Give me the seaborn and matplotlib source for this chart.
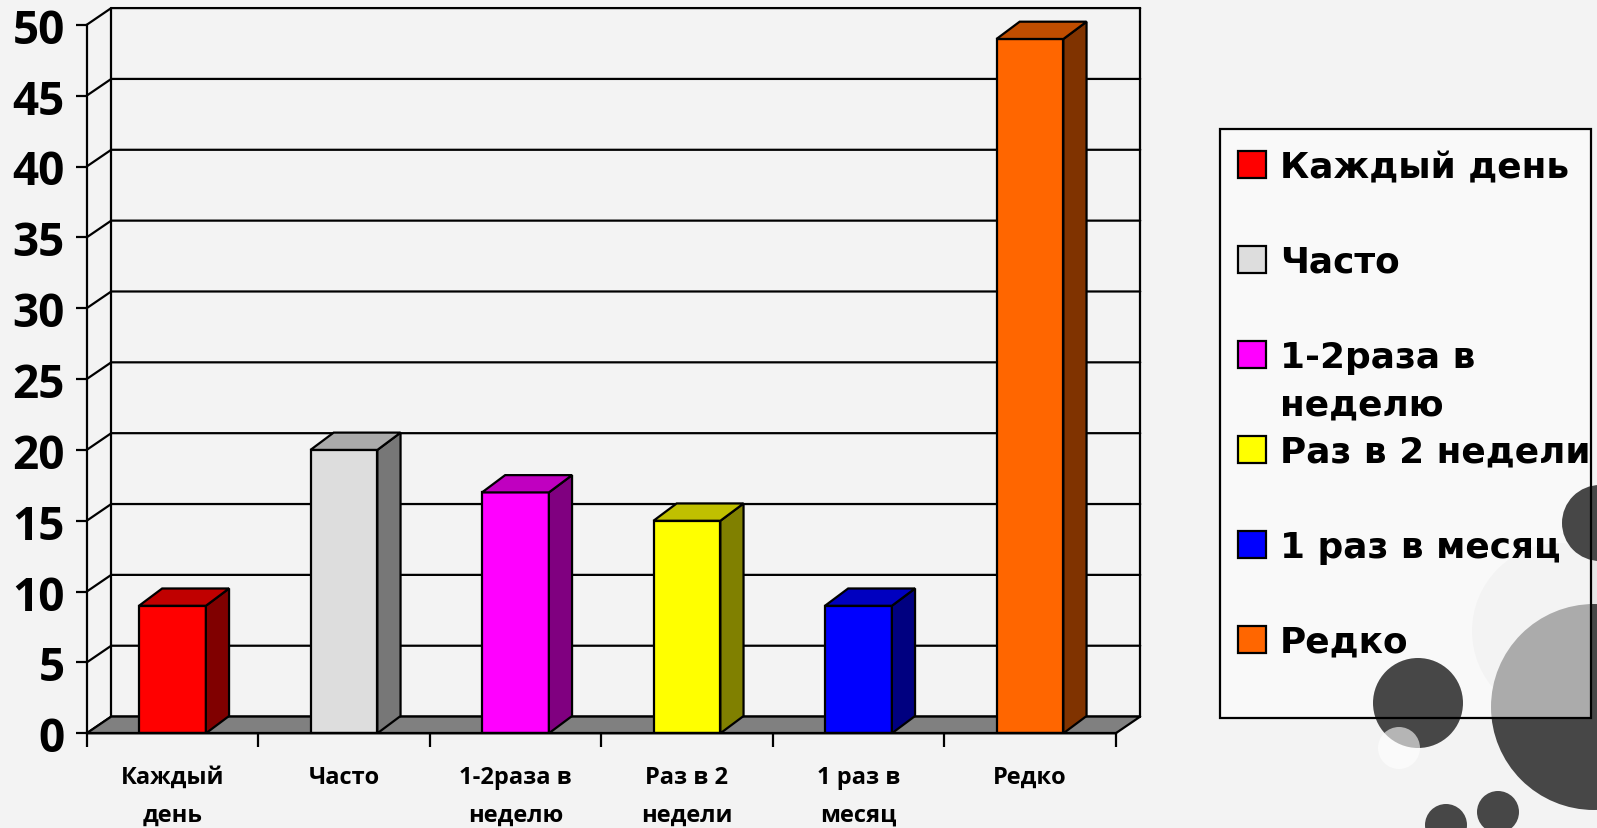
import numpy as np
import pandas as pd
import matplotlib
matplotlib.use("Agg")
import matplotlib.pyplot as plt
import seaborn as sns
from matplotlib.patches import Patch, Rectangle, Circle

# ---------------- data ----------------
categories = ["Каждый день", "Часто", "1-2раза в неделю", "Раз в 2 недели", "1 раз в месяц", "Редко"]
values = [9, 20, 17, 15, 9, 49]
tick_labels = ["Каждый\nдень", "Часто", "1-2раза в\nнеделю", "Раз в 2\nнедели", "1 раз в\nмесяц", "Редко"]
legend_labels = ["Каждый день", "Часто", "1-2раза в", "Раз в 2 недели", "1 раз в месяц", "Редко"]
legend_wrap = "неделю"
front_colors = ["#FF0000", "#DDDDDD", "#FF00FF", "#FFFF00", "#0000FF", "#FF6600"]
side_colors = ["#800000", "#777777", "#800080", "#808000", "#000080", "#803300"]
top_colors = ["#C00000", "#AAAAAA", "#C000C0", "#C0C000", "#0000C0", "#C04D00"]
y_ticks = [0, 5, 10, 15, 20, 25, 30, 35, 40, 45, 50]

# ---------------- style ----------------
sns.set_theme(style="ticks")
plt.rcParams['font.family'] = ['Open Sans', 'DejaVu Sans']
plt.rcParams['font.weight'] = 'bold'

W, H = 1597, 829
fig = plt.figure(figsize=(W / 100, H / 100), dpi=100)
fig.patch.set_facecolor('#f3f3f3')

# geometry of the pseudo-3D frame
x_left_px, cat_px, y0_px, unit_px = 86.7, 171.5, 734.3, 14.17
dx, dy = 0.143, 1.18        # depth of wall / floor
bdx, bdy = 0.135, 1.22      # depth of bars
ymax = y_ticks[-1]
n = len(categories)

ax = fig.add_axes([x_left_px / W, (H - y0_px) / H,
                   (n + dx) * cat_px / W, (ymax + dy) * unit_px / H])
ax.set_facecolor('none')

LW = 1.6
# bars (front faces)
df = pd.DataFrame({"cat": categories, "val": values})
sns.barplot(data=df, x="cat", y="val", hue="cat", palette=front_colors,
            saturation=1, width=0.39, edgecolor='black', linewidth=LW,
            legend=False, ax=ax, zorder=3)
bars = [p for p in ax.patches if isinstance(p, Rectangle)]

ax.set_xlim(-0.5, n - 0.5 + dx)
ax.set_ylim(0, ymax + dy)

# back wall gridlines + side-wall connectors
for v in y_ticks:
    ax.plot([-0.5, -0.5 + dx, n - 0.5 + dx], [v, v + dy, v + dy],
            color='black', lw=LW, zorder=1, clip_on=False)
ax.plot([-0.5 + dx, -0.5 + dx], [dy, ymax + dy], color='black', lw=LW, zorder=1, clip_on=False)
ax.plot([n - 0.5 + dx] * 2, [dy, ymax + dy], color='black', lw=LW, zorder=1, clip_on=False)

# floor
ax.fill([-0.5, n - 0.5, n - 0.5 + dx, -0.5 + dx], [0, 0, dy, dy], facecolor='#808080',
        edgecolor='black', lw=LW, zorder=1.5, clip_on=False)

# side and top faces from the bar geometry
for p in bars:
    x0, w, h = p.get_x(), p.get_width(), p.get_height()
    i = int(round(x0 + w / 2))
    x1 = x0 + w
    ax.fill([x1, x1 + bdx, x1 + bdx, x1], [0, bdy, h + bdy, h],
            facecolor=side_colors[i], edgecolor='black', lw=LW, zorder=3)
    ax.fill([x0, x1, x1 + bdx, x0 + bdx], [h, h, h + bdy, h + bdy],
            facecolor=top_colors[i], edgecolor='black', lw=LW, zorder=3)

# spines / ticks
for s in ['top', 'right']:
    ax.spines[s].set_visible(False)
ax.spines['left'].set_bounds(0, ymax)
ax.spines['bottom'].set_bounds(-0.5, n - 0.5)
for s in ['left', 'bottom']:
    ax.spines[s].set_linewidth(LW)
    ax.spines[s].set_color('black')
    ax.spines[s].set_zorder(4)

ax.set_yticks(y_ticks)
ax.set_yticklabels([str(v) for v in y_ticks])
ax.tick_params(axis='y', left=True, direction='out', length=7.8, width=LW,
               pad=8, labelsize=33, colors='black')
for t in ax.get_yticklabels():
    t.set_fontweight('bold')

ax.set_xticks(range(n))
ax.set_xticklabels(tick_labels, fontsize=17, fontweight='bold', linespacing=1.75)
ax.set_xticks(np.arange(-0.5, n, 1), minor=True)
ax.tick_params(axis='x', which='major', bottom=True, length=0, pad=23, colors='black')
ax.tick_params(axis='x', which='minor', bottom=True, length=10, width=LW,
               direction='out', color='black')
ax.set_xlabel("")
ax.set_ylabel("")

# decorative circles (background art)
def circ(x, y, r, c, z, a=1.0):
    fig.add_artist(Circle((x / 100, (H - y) / 100), r / 100, transform=fig.dpi_scale_trans,
                          facecolor=c, edgecolor='none', zorder=z, alpha=a))

circ(1560, 632, 88, '#e6e6e6', 0.3)
circ(1594, 708, 103, '#474747', 0.35)
# legend box: translucent white fill (veils the large circle) + black frame
fig.add_artist(Rectangle((1220 / W, (H - 719) / H), 371 / W, 589 / H,
                         transform=fig.transFigure, facecolor='white', alpha=0.55,
                         edgecolor='none', zorder=0.4))
circ(1600, 524, 38, '#474747', 0.6)
circ(1418, 704, 45, '#474747', 0.6)
circ(1399, 749, 21, 'white', 0.65, a=0.6)
circ(1446, 826, 21, '#474747', 0.6)
circ(1498, 813, 21, '#474747', 0.6)
fig.add_artist(Rectangle((1220 / W, (H - 719) / H), 371 / W, 589 / H,
                         transform=fig.transFigure, facecolor='none',
                         edgecolor='black', lw=LW, zorder=0.7))

handles = [Patch(facecolor=c, edgecolor='black', lw=LW) for c in front_colors]
leg = fig.legend(handles, legend_labels, loc='upper left',
                 bbox_to_anchor=(1238 / W, 1 - 151 / H), frameon=False,
                 prop={'family': ['DejaVu Sans'], 'weight': 'bold', 'size': 25.8},
                 handlelength=0.79, handleheight=0.79, handletextpad=0.38,
                 labelspacing=1.70, borderpad=0, borderaxespad=0)
for t in leg.get_texts():
    t.set_color('black')

fig.canvas.draw()
bb = leg.get_texts()[2].get_window_extent()
fig.text(bb.x0 / W, (bb.y0 + bb.y1) / 2 / H - 48 / H, legend_wrap,
         ha='left', va='center', family=['DejaVu Sans'], fontweight='bold',
         fontsize=25.8, color='black', zorder=6)

fig.savefig("out.png", dpi=100, facecolor=fig.get_facecolor())
